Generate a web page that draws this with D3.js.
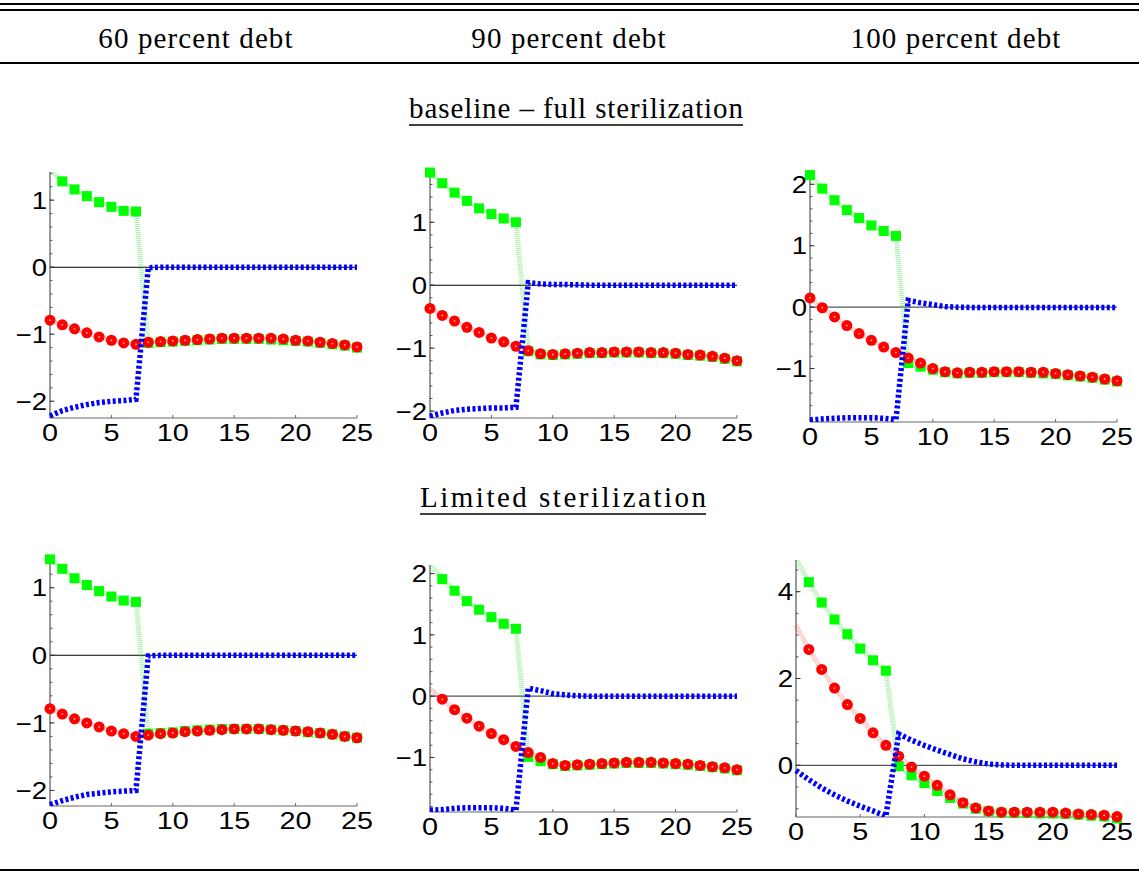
<!DOCTYPE html>
<html>
<head>
<meta charset="utf-8">
<script src="https://cdn.jsdelivr.net/npm/d3@7"></script>
<style>
  body { margin: 0; background: #fff; }
  svg { display: block; }
</style>
</head>
<body>
<svg></svg>
<script>
// periods after the shock
const periods = [0, 1, 2, 3, 4, 5, 6, 7, 8, 9, 10, 11, 12, 13, 14, 15, 16, 17, 18, 19, 20, 21, 22, 23, 24, 25];

const columnTitles = ["60 percent debt", "90 percent debt", "100 percent debt"];
const rowTitles = ["baseline \u2013 full sterilization", "Limited sterilization"];

// panel order: row 1 (60, 90, 100), row 2 (60, 90, 100)
const greenSeries = [
  [1.45, 1.28, 1.16, 1.06, 0.97, 0.90, 0.84, 0.83, -1.13, -1.12, -1.11, -1.10, -1.09, -1.08, -1.07, -1.07, -1.07, -1.07, -1.08, -1.09, -1.10, -1.11, -1.13, -1.15, -1.17, -1.20],
  [1.79, 1.62, 1.47, 1.34, 1.22, 1.13, 1.06, 1.00, -1.05, -1.10, -1.11, -1.10, -1.09, -1.08, -1.08, -1.07, -1.07, -1.07, -1.08, -1.08, -1.09, -1.11, -1.12, -1.14, -1.17, -1.21],
  [2.15, 1.93, 1.74, 1.58, 1.45, 1.33, 1.24, 1.16, -0.91, -0.97, -1.02, -1.06, -1.08, -1.07, -1.07, -1.06, -1.06, -1.06, -1.07, -1.08, -1.09, -1.11, -1.13, -1.15, -1.18, -1.21],
  [1.42, 1.28, 1.14, 1.04, 0.95, 0.87, 0.81, 0.79, -1.16, -1.15, -1.14, -1.12, -1.11, -1.10, -1.09, -1.09, -1.09, -1.09, -1.10, -1.11, -1.12, -1.14, -1.15, -1.17, -1.20, -1.22],
  [2.16, 1.91, 1.72, 1.55, 1.41, 1.29, 1.18, 1.10, -0.99, -1.06, -1.11, -1.14, -1.13, -1.12, -1.11, -1.10, -1.09, -1.09, -1.09, -1.10, -1.11, -1.12, -1.14, -1.16, -1.18, -1.21],
  [4.76, 4.22, 3.75, 3.36, 3.02, 2.69, 2.42, 2.18, -0.02, -0.23, -0.41, -0.59, -0.75, -0.88, -1.00, -1.06, -1.09, -1.10, -1.10, -1.11, -1.11, -1.12, -1.14, -1.16, -1.18, -1.22]
];

const redSeries = [
  [-0.79, -0.86, -0.92, -0.98, -1.04, -1.09, -1.13, -1.15, -1.12, -1.11, -1.10, -1.09, -1.08, -1.07, -1.06, -1.06, -1.06, -1.06, -1.06, -1.07, -1.09, -1.10, -1.12, -1.14, -1.16, -1.19],
  [-0.37, -0.48, -0.57, -0.67, -0.75, -0.84, -0.90, -0.97, -1.04, -1.09, -1.10, -1.09, -1.08, -1.07, -1.07, -1.06, -1.06, -1.06, -1.07, -1.07, -1.08, -1.10, -1.11, -1.13, -1.16, -1.20],
  [0.15, -0.01, -0.16, -0.30, -0.43, -0.54, -0.65, -0.74, -0.83, -0.91, -1.00, -1.05, -1.07, -1.06, -1.06, -1.05, -1.05, -1.05, -1.06, -1.06, -1.08, -1.10, -1.12, -1.14, -1.17, -1.20],
  [-0.79, -0.87, -0.94, -1.00, -1.06, -1.12, -1.16, -1.20, -1.18, -1.16, -1.15, -1.13, -1.12, -1.11, -1.10, -1.09, -1.09, -1.09, -1.10, -1.11, -1.12, -1.13, -1.15, -1.17, -1.20, -1.22],
  [0.12, -0.05, -0.22, -0.36, -0.49, -0.61, -0.71, -0.82, -0.92, -1.00, -1.10, -1.13, -1.12, -1.11, -1.10, -1.09, -1.08, -1.08, -1.08, -1.09, -1.10, -1.11, -1.13, -1.15, -1.17, -1.20],
  [3.23, 2.67, 2.21, 1.78, 1.40, 1.08, 0.75, 0.46, 0.21, -0.04, -0.25, -0.46, -0.68, -0.86, -0.98, -1.05, -1.08, -1.08, -1.08, -1.08, -1.08, -1.10, -1.12, -1.13, -1.15, -1.18]
];

const blueSeries = [
  [-2.22, -2.14, -2.09, -2.05, -2.02, -2.00, -1.99, -1.97, -0.01, 0, 0, 0, 0, 0, 0, 0, 0, 0, 0, 0, 0, 0, 0, 0, 0, 0],
  [-2.08, -2.03, -1.99, -1.97, -1.96, -1.95, -1.95, -1.94, 0.04, 0.02, 0.01, 0.01, 0.005, 0, 0, 0, 0, 0, 0, 0, 0, 0, 0, 0, 0, 0],
  [-1.84, -1.82, -1.81, -1.80, -1.80, -1.80, -1.81, -1.83, 0.11, 0.07, 0.04, 0.01, 0, -0.005, -0.005, -0.005, -0.005, -0.005, -0.005, -0.005, -0.005, -0.005, -0.005, -0.005, -0.005, -0.005],
  [-2.21, -2.15, -2.10, -2.06, -2.04, -2.02, -2.01, -2.00, -0.01, 0, 0, 0, 0, 0, 0, 0, 0, 0, 0, 0, 0, 0, 0, 0, 0, 0],
  [-1.86, -1.85, -1.83, -1.82, -1.82, -1.82, -1.83, -1.86, 0.13, 0.09, 0.04, 0.02, 0.005, 0, 0, 0, 0, 0, 0, 0, 0, 0, 0, 0, 0, 0],
  [-0.12, -0.33, -0.52, -0.68, -0.82, -0.94, -1.05, -1.17, 0.72, 0.58, 0.46, 0.35, 0.25, 0.15, 0.08, 0.03, 0.01, 0, 0, 0, 0, 0, 0, 0, 0, 0]
];

// visible y range of each panel
const yRanges = [
  [-2.25, 1.42], [-2.11, 1.83], [-1.87, 2.20],
  [-2.23, 1.44], [-1.89, 2.14], [-1.19, 4.73]
];
const yTickValues = [
  [-2, -1, 0, 1], [-2, -1, 0, 1], [-1, 0, 1, 2],
  [-2, -1, 0, 1], [-1, 0, 1, 2], [0, 2, 4]
];
const yMinorSteps = [0.2, 0.2, 0.2, 0.2, 0.2, 0.5];
const xTickValues = [0, 5, 10, 15, 20, 25];
// first period that gets a marker [green, red]
const markFrom = [[1, 0], [0, 0], [0, 0], [0, 0], [1, 1], [1, 1]];

window.onload = () => {
  const svg = d3.select("svg")
    .attr("width", 1139)
    .attr("height", 873);

  // plot frames (pixels)
  const frames = [
    { left: 50, right: 357, top: 172, bottom: 418 },
    { left: 430, right: 737, top: 170, bottom: 418 },
    { left: 810, right: 1117, top: 172, bottom: 422 },
    { left: 50, right: 357, top: 558, bottom: 806 },
    { left: 430, right: 737, top: 565, bottom: 812 },
    { left: 796, right: 1117, top: 560, bottom: 817 }
  ];

  // table rules
  const rules = [4, 10, 63, 870];
  svg.selectAll(".rule")
    .data(rules)
    .join("line")
    .attr("x1", 0).attr("x2", 1139)
    .attr("y1", d => d).attr("y2", d => d)
    .attr("stroke", "#000")
    .attr("stroke-width", (d, i) => i == 0 ? 2.2 : 1.8);

  const serif = "'Liberation Serif', 'Times New Roman', serif";

  svg.selectAll(".coltitle")
    .data(columnTitles)
    .join("text")
    .attr("x", (d, i) => [196, 569, 956][i])
    .attr("y", 48)
    .attr("text-anchor", "middle")
    .style("font-family", serif)
    .style("font-size", "29px")
    .style("letter-spacing", "1.1px")
    .text(d => d);

  // row titles, underlined
  const rowY = [118, 507];
  const rowX = [576, 563];
  const rowW = [334, 286];
  rowTitles.forEach((t, i) => {
    svg.append("text")
      .attr("x", rowX[i] - rowW[i] / 2)
      .attr("y", rowY[i])
      .attr("textLength", rowW[i])
      .attr("lengthAdjust", "spacing")
      .style("font-family", serif)
      .style("font-size", "29px")
      .text(t);
    svg.append("line")
      .attr("x1", rowX[i] - rowW[i] / 2).attr("x2", rowX[i] + rowW[i] / 2)
      .attr("y1", rowY[i] + 7).attr("y2", rowY[i] + 7)
      .attr("stroke", "#000")
      .attr("stroke-width", 1.6);
  });

  const sans = "'Liberation Sans', Arial, sans-serif";

  frames.forEach((f, p) => {
    const x = d3.scaleLinear().domain([0, 25]).range([f.left, f.right]);
    const y = d3.scaleLinear().domain(yRanges[p]).range([f.bottom, f.top]);
    const g = svg.append("g");

    g.append("clipPath").attr("id", "clip" + p)
      .append("rect")
      .attr("x", f.left - 2).attr("y", f.top)
      .attr("width", f.right - f.left + 6).attr("height", f.bottom - f.top);

    // zero line
    g.append("line")
      .attr("x1", x(0)).attr("x2", x(25))
      .attr("y1", y(0)).attr("y2", y(0))
      .attr("stroke", p == 2 || p >= 4 ? "#555" : "#000")
      .attr("stroke-width", 1.1);

    // left axis
    g.append("line")
      .attr("x1", f.left).attr("x2", f.left)
      .attr("y1", f.top).attr("y2", f.bottom)
      .attr("stroke", "#333").attr("stroke-width", 1);

    const step = yMinorSteps[p];
    const lo = yRanges[p][0], hi = yRanges[p][1];
    const minors = d3.range(Math.ceil(lo / step), Math.floor(hi / step) + 1).map(k => k * step);
    g.selectAll(".minor")
      .data(minors)
      .join("line")
      .attr("x1", f.left).attr("x2", f.left + 2.5)
      .attr("y1", d => y(d)).attr("y2", d => y(d))
      .attr("stroke", "#333").attr("stroke-width", 0.8);

    g.selectAll(".major")
      .data(yTickValues[p])
      .join("line")
      .attr("x1", f.left).attr("x2", f.left + 4.5)
      .attr("y1", d => y(d)).attr("y2", d => y(d))
      .attr("stroke", "#333").attr("stroke-width", 1);

    g.selectAll(".ylab")
      .data(yTickValues[p])
      .join("text")
      .attr("transform", d => `translate(${f.left - 3},${y(d)}) scale(1.15,1)`)
      .attr("dy", "0.36em")
      .attr("text-anchor", "end")
      .style("font-family", sans)
      .style("font-size", "24px")
      .text(d => d3.format("d")(d));

    // bottom axis
    g.append("line")
      .attr("x1", f.left).attr("x2", f.right)
      .attr("y1", f.bottom).attr("y2", f.bottom)
      .attr("stroke", "#666").attr("stroke-width", 1);

    g.selectAll(".xtick")
      .data(xTickValues)
      .join("line")
      .attr("x1", d => x(d)).attr("x2", d => x(d))
      .attr("y1", f.bottom).attr("y2", f.bottom - 3)
      .attr("stroke", "#666").attr("stroke-width", 1);

    g.selectAll(".xlab")
      .data(xTickValues)
      .join("text")
      .attr("transform", d => `translate(${x(d)},${f.bottom + 23}) scale(1.2,1)`)
      .attr("text-anchor", "middle")
      .style("font-family", sans)
      .style("font-size", "24px")
      .text(d => d);

    const line = vals => d3.line()
      .x((d, i) => x(periods[i]))
      .y(d => y(d))(vals);

    const clip = "url(#clip" + p + ")";

    // green series
    g.append("path")
      .attr("d", line(greenSeries[p]))
      .attr("clip-path", clip)
      .attr("fill", "none")
      .attr("stroke", "#3ad83a")
      .attr("stroke-opacity", 0.45)
      .attr("stroke-width", 5)
      .attr("stroke-dasharray", "1,1");

    g.selectAll(".sq")
      .data(greenSeries[p].map((v, i) => ({ t: periods[i], v })).filter(d => d.t >= markFrom[p][0]))
      .join("rect")
      .attr("x", d => x(d.t) - 5)
      .attr("y", d => y(d.v) - 5)
      .attr("width", 10).attr("height", 10)
      .attr("fill", "#00ff00");

    // red series
    g.append("path")
      .attr("d", line(redSeries[p]))
      .attr("clip-path", clip)
      .attr("fill", "none")
      .attr("stroke", "#ff4040")
      .attr("stroke-opacity", 0.4)
      .attr("stroke-width", 5)
      .attr("stroke-dasharray", "1,1");

    const reds = redSeries[p].map((v, i) => ({ t: periods[i], v })).filter(d => d.t >= markFrom[p][1]);
    g.selectAll(".dot")
      .data(reds)
      .join("circle")
      .attr("cx", d => x(d.t))
      .attr("cy", d => y(d.v))
      .attr("r", 5.5)
      .attr("fill", "#ff0000");
    g.selectAll(".dotc")
      .data(reds)
      .join("circle")
      .attr("cx", d => x(d.t))
      .attr("cy", d => y(d.v))
      .attr("r", 0.9)
      .attr("fill", "#ffb0b0");

    // blue series
    g.append("path")
      .attr("d", line(blueSeries[p]))
      .attr("clip-path", clip)
      .attr("fill", "none")
      .attr("stroke", "#0000ff")
      .attr("stroke-width", 5.5)
      .attr("stroke-dasharray", "3,2.4");
  });
};
</script>
</body>
</html>
